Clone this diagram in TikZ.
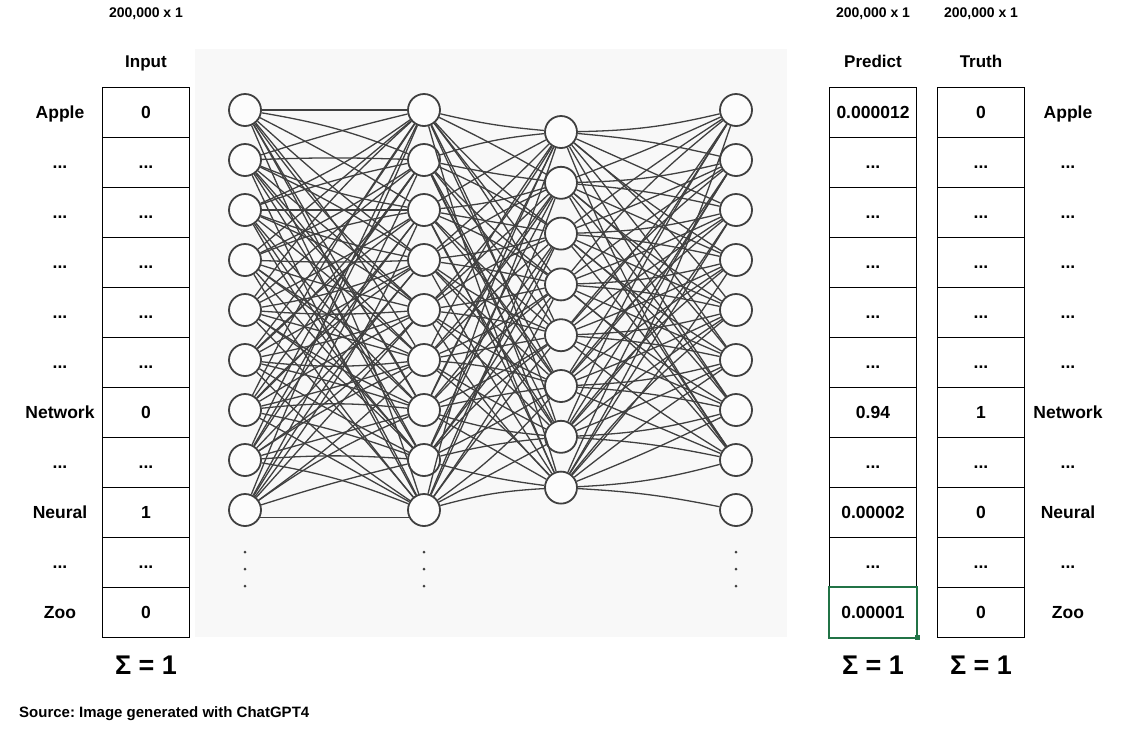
\documentclass[tikz,border=0pt]{standalone}
\usepackage{fontspec}
\setmainfont{Liberation Sans}
\definecolor{bgc}{HTML}{F8F8F8}
\definecolor{edgec}{HTML}{404040}
\definecolor{exgreen}{HTML}{217346}
\newcommand\myell{...}
\frenchspacing
\begin{document}
\begin{tikzpicture}[x=1pt,y=-1pt,
  neuron/.style={circle,draw=edgec,line width=1.8pt,fill=white!60!bgc,minimum size=32pt,inner sep=0pt},
  edge/.style={draw=edgec,line width=1.3pt},
  cell/.style={draw=black,line width=1pt,minimum width=87pt,minimum height=50pt,inner sep=0pt,text height=12.5pt,text depth=0pt,font=\fontsize{17.5}{19}\selectfont\bfseries},
  lbl/.style={font=\fontsize{17.5}{19}\selectfont\bfseries,inner sep=0pt,text height=12.5pt,text depth=0pt},
  head/.style={font=\fontsize{17}{19}\selectfont\bfseries,inner sep=0pt,anchor=base},
  dim/.style={font=\fontsize{14}{16}\selectfont\bfseries,inner sep=0pt,anchor=base},
  src/.style={font=\fontsize{15}{17}\selectfont\bfseries,inner sep=0pt},
  sigma/.style={font=\fontsize{27}{30}\selectfont\bfseries,inner sep=0pt,anchor=base},
  dotn/.style={circle,fill=edgec,minimum size=3pt,inner sep=0pt}]
\useasboundingbox (0,0) rectangle (1124,729);
\fill[bgc] (195,49) rectangle (787,637);
% neurons
\foreach \i in {1,...,9} {
  \node[neuron] (a\i) at (245,60+50*\i) {};
  \node[neuron] (b\i) at (424,60+50*\i) {};
  \node[neuron] (d\i) at (736,60+50*\i) {};
}
\foreach \i in {1,...,8} {
  \node[neuron] (c\i) at (561,81.2+50.8*\i) {};
}
% connections
\foreach \i in {1,...,9} {
  \foreach \j in {1,...,9} {
    \pgfmathtruncatemacro\bb{2*(mod(\i*3+\j*5,7)-3)}
    \ifnum\i=\j
      \ifnum\i=1\relax\else\ifnum\i=9\relax\else
        \draw[edge] (a\i) to[bend right=\bb] (b\j);
      \fi\fi
    \else
      \draw[edge] (a\i) to[bend left=\bb] (b\j);
    \fi
  }
  \foreach \j in {1,...,8} {
    \pgfmathtruncatemacro\bb{2*(mod(\i*5+\j*3,7)-3)}
    \draw[edge] (b\i) to[bend left=\bb] (c\j);
  }
}
\draw[edge] (a1) -- (b1);
\draw[edge] (a9.-25) -- (b9.-155);
\foreach \i in {1,...,8} {
  \foreach \j in {1,...,8} {
    \pgfmathtruncatemacro\bb{2*(mod(\i*2+\j*5,7)-3)}
    \draw[edge] (c\i) to[bend left=\bb] (d\j);
  }
}
\draw[edge] (c8) to[bend left=4] (d9);
% dots
\foreach \x/\n in {245/a,424/b,736/d} {
  \node[dotn] (\n dot1) at (\x,552) {};
  \node[dotn] (\n dot2) at (\x,569) {};
  \node[dotn] (\n dot3) at (\x,586) {};
}
% columns
\foreach \v [count=\n] in {0,\myell,\myell,\myell,\myell,\myell,0,\myell,1,\myell,0} {
  \node[cell] (in\n) at (146,62+50*\n) {\v};
}
\foreach \v [count=\n] in {0.000012,\myell,\myell,\myell,\myell,\myell,0.94,\myell,0.00002,\myell,0.00001} {
  \node[cell] (pr\n) at (873,62+50*\n) {\v};
}
\foreach \v [count=\n] in {0,\myell,\myell,\myell,\myell,\myell,1,\myell,0,\myell,0} {
  \node[cell] (tr\n) at (981,62+50*\n) {\v};
}
\foreach \v [count=\n] in {Apple,\myell,\myell,\myell,\myell,\myell,Network,\myell,Neural,\myell,Zoo} {
  \node[lbl] (ll\n) at (60,62+50*\n) {\v};
  \node[lbl] (rl\n) at (1068,62+50*\n) {\v};
}
% green selection
\draw[exgreen,line width=2pt] (pr11.south west) rectangle (pr11.north east);
\node[fill=exgreen,minimum size=5pt,inner sep=0pt] (handle) at (pr11.south east) {};
% headers
\node[head] (hin) at (146,67.5) {Input};
\node[head] (hpr) at (873,67.5) {Predict};
\node[head] (htr) at (981,67.5) {Truth};
\node[dim] (din) at (146,17) {200,000 x 1};
\node[dim] (dpr) at (873,17) {200,000 x 1};
\node[dim] (dtr) at (981,17) {200,000 x 1};
\node[sigma] (sin) at (146,674) {Σ = 1};
\node[sigma] (spr) at (873,674) {Σ = 1};
\node[sigma] (str) at (981,674) {Σ = 1};
\node[src,anchor=base west] (source) at (19,717) {Source: Image generated with ChatGPT4};
\end{tikzpicture}
\end{document}
